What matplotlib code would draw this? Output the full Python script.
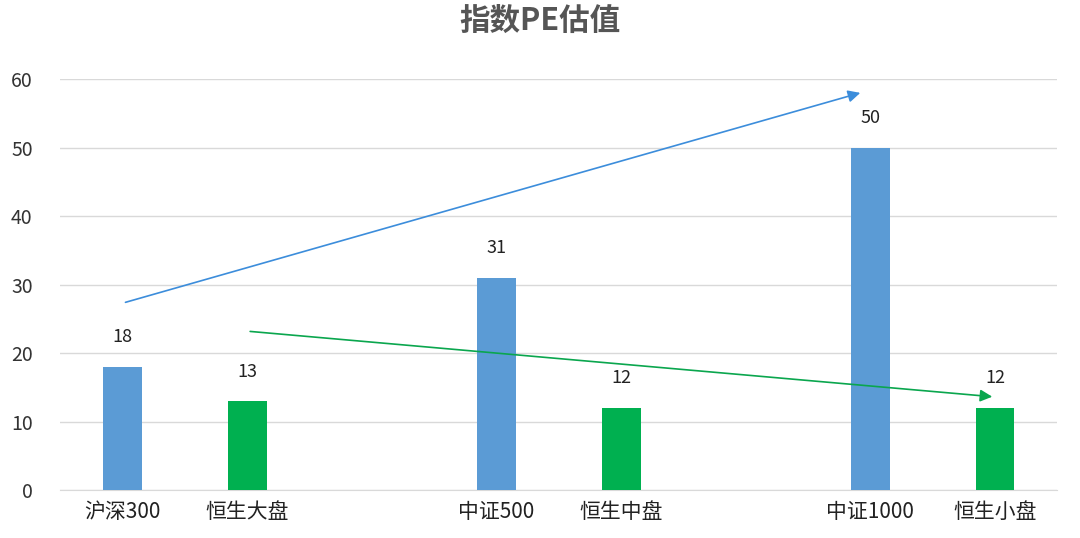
import matplotlib.pyplot as plt

plt.rcParams['font.family'] = ['Noto Sans CJK SC', 'DejaVu Sans']

labels = ["沪深300", "恒生大盘", "", "中证500", "恒生中盘", "", "中证1000", "恒生小盘"]
values = [18, 13, None, 31, 12, None, 50, 12]
colors = ["#5B9BD5", "#00B050", None, "#5B9BD5", "#00B050", None, "#5B9BD5", "#00B050"]

# trend arrows (data coords)
blue_arrow = [(0.0, 27.3), (5.94, 58.1)]
green_arrow = [(1.0, 23.2), (7.0, 13.6)]

fig = plt.figure(figsize=(10.8, 5.38), dpi=100)
ax = fig.add_axes([0.056, 0.089, 0.923, 0.764])

for i, (v, c) in enumerate(zip(values, colors)):
    if v is None:
        continue
    ax.bar(i, v, width=0.31, color=c, zorder=3)
    ax.text(i, v + 3, str(v), ha="center", va="bottom", fontsize=13, color="#222222")

ax.annotate("", xy=blue_arrow[1], xytext=blue_arrow[0],
            arrowprops=dict(arrowstyle="-|>", color="#3C8DDB", lw=1.2, mutation_scale=18), zorder=4)
ax.annotate("", xy=green_arrow[1], xytext=green_arrow[0],
            arrowprops=dict(arrowstyle="-|>", color="#0AA64E", lw=1.2, mutation_scale=18), zorder=4)

ax.set_xlim(-0.5, 7.5)
ax.set_ylim(0, 60)
ax.set_yticks(range(0, 61, 10))
ax.set_xticks([i for i, l in enumerate(labels) if l])
ax.set_xticklabels([l for l in labels if l])
ax.tick_params(axis="x", length=0, labelsize=15, pad=8, colors="#222222")
ax.tick_params(axis="y", length=0, labelsize=14, pad=20, colors="#333333")
ax.grid(axis="y", color="#D9D9D9", lw=1, zorder=0)
for s in ["top", "right", "left"]:
    ax.spines[s].set_visible(False)
ax.spines["bottom"].set_color("#D9D9D9")

fig.suptitle("指数PE估值", fontsize=22, fontweight="bold", color="#555555", y=0.99)

fig.savefig("out.png", dpi=100)
